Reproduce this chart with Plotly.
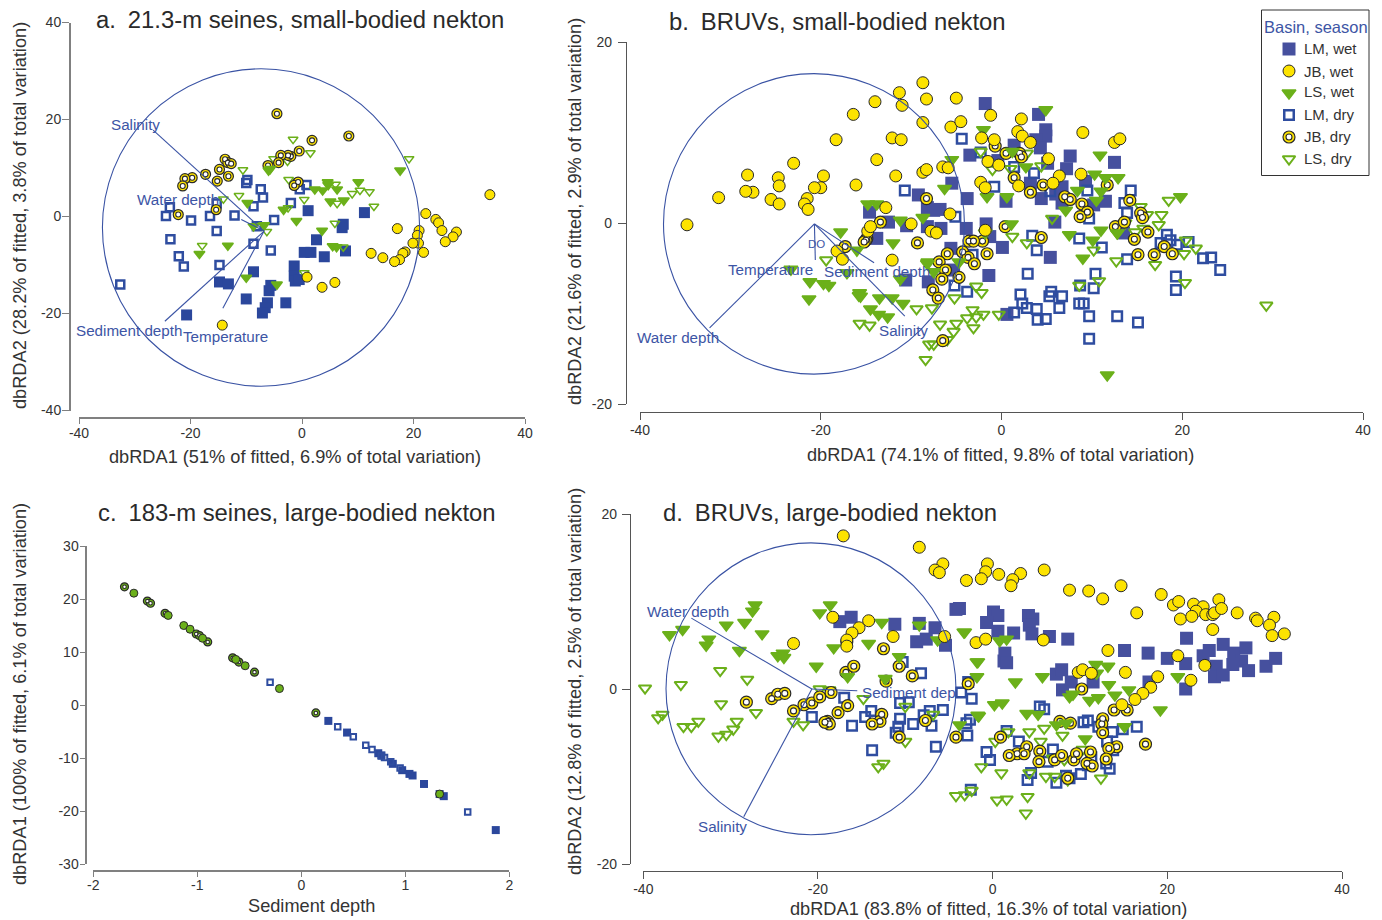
import plotly.graph_objects as go

# ---------- panel a ----------
a_lm_wet_x = [1.1,11.2,7.4,7.2,2.6,0.4,1.6,4.0,7.8,-1.4,-1.4,-1.2,-0.5,-8.7,-14.8,-13.2,-5.6,-5.9,-10.0,-6.2,-6.6,-7.1,-2.9,-20.7]
a_lm_wet_y = [1.2,0.8,-1.6,-2.3,-4.8,-7.4,-7.4,-8.3,-7.1,-10.2,-12.3,-13.3,-13.0,-11.4,-13.5,-13.9,-14.2,-15.3,-17.0,-17.8,-18.8,-19.9,-17.8,-20.3]
a_jb_wet_x = [33.7,22.2,24.0,24.5,25.1,27.7,27.1,25.7,17.1,21.0,20.7,20.9,19.9,21.8,18.5,18.1,17.5,16.6,12.4,14.5,0.9,3.6,5.9,-14.3]
a_jb_wet_y = [4.5,0.6,-0.6,-1.3,-2.9,-3.2,-4.2,-5.2,-2.5,-2.9,-3.9,-5.5,-5.5,-7.4,-7.3,-7.6,-8.9,-9.3,-7.6,-8.5,-12.5,-14.6,-13.6,-22.4]
a_ls_wet_x = [17.6,4.6,4.7,10.1,2.3,3.7,6.3,5.1,7.5,-9.8,-3.3,-1.0,3.6,5.5,6.2,-6.8,-8.7,-13.3,-18.4,-10.0,-4.5,-6.0,-5.7]
a_ls_wet_y = [9.5,7.1,6.5,7.1,5.6,5.4,5.6,3.1,3.3,2.8,1.4,-0.9,-2.9,-6.1,-6.3,-1.8,-2.0,-6.0,-7.7,-12.6,-14.0,9.5,9.8]
a_lm_dry_x = [-9.8,-10.0,-7.4,-7.0,-8.7,-2.0,0.8,-0.4,-5.0,-12.1,-8.1,-15.3,-16.5,-19.9,-24.4,-23.7,-15.3,-23.6,-22.1,-21.2,-14.8,-8.7,-5.6,-32.6]
a_lm_dry_y = [7.5,6.9,5.6,3.9,2.1,2.8,6.5,5.6,-0.7,0.2,-2.0,2.7,0.1,-0.8,0.1,1.9,-3.0,-4.7,-8.2,-10.3,-10.0,-5.6,-7.0,-14.0]
a_jb_dry_x = [-4.5,1.8,8.4,-0.5,-2.0,-2.5,-3.8,-4.2,-6.1,-13.8,-13.3,-12.7,-17.3,-14.8,-13.2,-15.2,-19.7,-21.0,-21.4,-0.7,-1.4,-22.2,-15.4]
a_jb_dry_y = [21.2,15.7,16.6,13.5,12.4,12.6,12.6,11.1,10.5,11.8,11.1,10.9,8.7,9.7,8.3,7.3,8.0,7.8,6.3,7.1,6.4,0.4,1.4]
a_ls_dry_x = [-1.6,1.5,-5.1,-2.6,-10.6,-2.4,6.0,9.0,10.4,12.1,0.4,12.9,6.3,-11.3,-14.1,-2.5,5.9,-6.3,-17.9,0.4,19.2,7.4]
a_ls_dry_y = [15.9,13.1,11.9,11.4,9.6,7.6,6.6,4.7,5.4,5.1,3.5,2.1,2.7,4.3,3.6,1.8,-1.4,-3.1,-6.0,-11.6,11.9,-6.3]

# ---------- panel b ----------
b_lm_wet_x = [-3.5,-5.5,-9.2,-8.2,-6.8,-7.5,-14.6,-10.5,-8.2,-6.7,-3.8,-3.9,-13.8,-5.6,-10.6,-8.1,-5.3,-12.5,-1.8,4.1,4.9,4.9,3.8,1.4,-0.4,4.3,7.6,7.2,12.5,9.3,0.5,4.4,3.2,6.7,6.0,6.7,11.5,10.2,5.9,-1.7,-1.3,0.1,5.4,-1.4,13.5,5.1,0.6]
b_lm_wet_y = [7.5,4.4,3.1,1.7,1.5,1.4,1.2,-0.3,-0.4,-0.6,2.7,-0.6,-1.7,-2.8,-6.3,-6.5,-5.2,0.1,13.2,12.0,10.3,9.6,9.2,8.6,6.9,8.3,7.4,6.0,6.7,4.6,2.4,2.7,4.4,4.0,3.2,2.2,2.4,2.0,0.1,-0.1,-1.5,-2.7,-3.8,-5.8,-1.1,6.6,-10.1]
b_jb_wet_x = [-8.7,-11.3,-14.0,-8.3,-5.0,-11.0,-16.4,-8.7,-5.6,-4.5,-18.3,-12.1,-11.1,-23.0,-28.1,-13.8,-24.7,-24.6,-19.7,-20.0,-20.7,-27.5,-28.3,-31.3,-25.5,-24.6,-21.5,-21.8,-21.4,-16.1,-11.7,-8.7,-8.3,-6.5,-5.9,-12.8,-5.7,-10.0,-7.8,-7.2,-14.8,-34.8,-18.2,-17.6,-12.1,-14.5,-1.2,2.2,-2.2,-0.8,1.8,2.3,3.2,9.0,12.5,13.1,-1.5,5.2,8.8,6.4,-2.3,-1.8,1.9,-0.3,-1.8,5.7]
b_jb_wet_y = [15.5,14.4,13.4,13.7,13.8,13.0,12.0,11.1,10.6,11.2,9.2,9.4,9.2,6.6,5.3,7.0,5.0,4.1,5.2,3.9,3.9,3.4,3.5,2.8,2.6,2.1,2.7,2.1,1.5,4.2,5.2,5.6,5.9,6.2,6.1,1.7,1.0,-0.1,-0.9,-1.1,-0.9,-0.2,-3.1,-4.0,-4.1,-0.4,11.9,11.5,9.4,9.2,10.1,9.6,8.9,10.0,8.9,9.3,6.8,7.1,5.4,5.2,4.5,3.9,4.1,6.4,-0.8,4.4]
b_ls_wet_x = [-5.5,-6.3,-14.8,-13.8,-11.2,-8.7,-17.8,-12.0,-16.0,-23.3,-21.2,-19.7,-19.1,-21.3,-15.7,-15.6,-13.5,-12.1,-10.9,-14.5,-13.6,-12.6,-11.2,-17.1,-7.5,-4.7,-8.2,4.9,-2.0,10.9,10.3,12.9,11.5,8.4,11.0,10.5,7.1,2.7,-1.6,0.6,1.2,19.8,1.1,-1.8,11.0,7.5,10.1,9.0,11.7,12.8]
b_ls_wet_y = [7.0,3.8,2.1,2.1,0.3,0.6,-1.0,-2.2,-3.0,-5.1,-6.5,-6.7,-6.9,-8.4,-7.7,-8.1,-8.3,-8.3,-8.9,-9.5,-10.1,-10.4,-6.2,-5.5,-5.4,-4.3,-4.5,12.5,10.3,7.5,5.4,5.0,5.0,3.6,3.5,2.5,1.4,6.2,2.9,2.9,7.9,2.9,-0.1,-1.1,-0.8,-1.3,-1.9,-3.9,-16.8,-1.1]
b_lm_dry_x = [-4.4,-10.7,-5.1,-5.2,-3.8,-2.3,-0.8,1.4,3.6,9.5,14.3,13.6,13.9,5.4,3.4,3.9,8.6,11.1,9.7,13.9,2.9,10.4,8.7,10.2,2.1,5.5,5.3,6.7,2.3,2.8,3.9,6.4,8.6,9.1,1.4,4.9,4.0,9.7,12.8,15.1,9.7,17.6,18.3,18.7,19.4,20.7,22.3,23.2,24.2,19.3,19.3,-3.2]
b_lm_dry_y = [9.3,3.6,0.7,-6.9,-7.6,7.8,4.0,6.2,5.5,3.6,3.6,2.2,1.1,3.5,-1.4,-3.0,-1.7,-2.7,0.5,-4.0,-5.6,-5.6,-6.9,-7.2,-7.9,-7.6,-8.1,-8.1,-8.9,-9.4,-9.5,-9.4,-8.9,-8.9,-9.9,-10.6,-10.7,-10.3,-10.3,-11.0,-12.8,-2.2,-1.3,-1.9,-2.4,-2.1,-3.9,-3.8,-5.2,-5.9,-7.4,-3.5]
b_jb_dry_x = [-8.3,-13.4,-9.3,-14.9,-15.0,-15.2,-17.3,-6.0,-4.3,-6.9,-6.2,-6.6,-4.7,-7.6,-7.0,-6.5,-3.6,-0.7,0.5,2.0,2.2,1.4,4.6,3.2,7.0,7.6,11.7,8.9,9.5,8.7,14.2,15.4,15.6,12.6,13.6,16.2,14.7,0.4,4.4,-2.1,-3.1,-3.7,-3.0,-1.6,15.1,16.9,18.0,18.9]
b_jb_dry_y = [2.7,0.1,-2.2,-1.7,-1.9,-2.1,-2.6,-3.4,-3.2,-4.3,-5.2,-6.2,-6.0,-7.4,-8.3,-13.0,-2.0,8.5,7.7,7.7,7.3,5.0,4.2,3.4,2.9,2.6,4.2,2.1,1.2,0.7,2.5,1.1,0.6,-0.4,0.1,-1.0,-1.8,-0.4,-1.6,-2.0,-2.0,-3.8,-4.5,-3.4,-3.5,-3.5,-2.6,-3.4]
b_ls_dry_x = [-19.4,-9.4,-15.7,-14.6,-7.7,-5.2,-6.8,-5.0,-3.8,-5.3,-8.0,-7.5,-6.0,-8.4,-8.2,-15.8,-1.0,1.0,4.4,2.8,-2.3,18.5,15.4,16.1,17.7,17.4,13.7,12.8,14.8,15.7,1.2,2.8,10.2,12.7,17.0,20.4,21.5,20.2,10.8,8.6,20.3,29.3,-2.8,-2.2,-3.2,-2.0,-0.3,-2.8,-3.1,5.6]
b_ls_dry_y = [-4.1,-9.5,-11.1,-11.3,-9.4,-8.3,-11.2,-11.1,-10.5,-12.0,-13.4,-13.4,-12.9,-15.1,-4.3,-8.0,5.9,6.0,6.3,7.7,7.9,2.5,1.8,0.9,0.9,-0.2,0.0,-1.1,-1.0,-0.6,-1.5,-2.2,-3.0,-4.2,-4.6,-1.9,-2.8,-3.4,-6.4,-6.9,-6.6,-9.1,-7.0,-7.7,-9.6,-10.1,-10.1,-10.4,-11.6,0.5]

# ---------- panel c ----------
c_green_wet_x = [-1.61,-1.28,-1.13,-1.07,-0.95,-0.54,-0.21,1.33,-0.63]
c_green_wet_y = [21.1,16.9,15.0,14.3,12.6,7.4,3.1,-16.8,8.6]
c_green_dry_x = [-1.70,-1.48,-1.45,-1.31,-1.01,-0.98,-0.90,-0.66,-0.60,-0.45,0.14]
c_green_dry_y = [22.3,19.6,19.2,17.3,13.4,13.1,11.9,8.9,8.1,6.2,-1.5]
c_lm_wet_x = [0.26,0.44,0.74,0.77,0.88,0.97,1.04,1.07,1.18,1.33,1.37,1.87]
c_lm_wet_y = [-3.0,-5.2,-9.1,-9.5,-11.1,-12.3,-13.0,-13.3,-14.9,-16.8,-17.2,-23.6]
c_lm_dry_x = [-0.30,0.35,0.50,0.62,0.68,0.77,0.80,0.86,0.95,1.60]
c_lm_dry_y = [4.3,-4.1,-6.0,-7.6,-8.4,-9.6,-9.9,-10.7,-11.9,-20.2]

# ---------- panel d ----------
d_lm_wet_x = [-17.5,-16.2,-11.2,-8.4,-6.6,-7.6,-8.7,-5.4,-4.2,-3.8,0.1,0.6,-0.7,0.6,2.4,4.1,4.6,4.2,4.5,6.5,8.6,1.4,1.3,1.6,15.1,17.8,20.0,22.2,22.1,24.1,24.8,26.4,27.6,29.0,28.5,27.5,25.6,25.4,26.4,29.3,31.3,32.4,7.3,7.9,8.0,9.0,11.5,17.9,22.1]
d_lm_wet_y = [7.7,8.2,7.4,7.5,7.0,5.7,5.4,5.0,9.1,9.2,8.8,8.4,7.6,6.6,6.4,8.4,8.0,7.3,6.3,6.0,5.7,4.1,3.2,3.0,4.4,4.1,3.5,5.8,2.9,3.8,4.4,5.1,4.1,4.7,3.2,2.8,2.6,1.4,1.6,2.1,2.6,3.5,1.7,2.2,-0.1,0.8,0.8,0.8,0.0]
d_jb_wet_x = [-17.1,-8.4,-5.7,-6.6,-6.1,-3.0,-18.3,-14.2,-15.3,-16.1,-16.7,-16.7,-11.4,-5.5,-22.8,-1.9,-0.6,-0.8,0.7,-1.3,3.2,2.3,2.1,5.9,8.8,11.0,12.6,14.7,19.3,20.7,21.3,23.0,24.1,23.3,24.4,25.2,25.4,25.9,26.2,21.5,22.8,28.0,30.1,30.3,32.2,31.7,32.0,33.4,25.2,16.5,-0.8,5.8,13.2,21.2,24.3,15.2,9.8,10.3,11.3,22.7,18.9,18.1,17.2,16.3,14.8]
d_jb_wet_y = [17.5,16.2,14.3,13.6,13.3,12.4,8.2,7.8,7.0,6.4,5.6,4.9,6.0,6.0,5.2,5.3,14.3,13.4,13.1,12.6,13.2,12.5,11.8,13.6,11.3,11.2,10.3,11.8,10.8,9.6,10.0,9.7,9.4,8.9,8.5,8.5,8.7,10.2,9.2,8.0,8.3,8.7,8.1,7.8,8.2,7.3,6.1,6.3,6.8,8.7,5.7,5.6,4.4,3.8,2.7,1.9,1.9,2.2,1.8,1.0,1.4,0.2,-0.5,-1.2,-1.8]
d_ls_wet_x = [-27.2,-27.5,-30.5,-28.4,-26.4,-37.0,-35.5,-32.5,-32.8,-29.0,-24.6,-24.0,-23.9,-18.6,-19.8,-18.2,-14.2,-12.7,-20.2,-16.6,-10.7,-12.3,-3.3,-8.4,-6.3,-3.8,-1.8,-1.8,-1.7,-3.2,-1.7,0.8,1.6,2.6,5.7,0.2,1.1,-1.6,3.9,5.2,7.3,8.4,8.8,11.1,12.1,11.8,13.2,11.9,13.3,14.0,15.6,15.1,19.2,21.2,10.6,9.2]
d_ls_wet_y = [9.6,8.9,7.3,7.6,6.3,6.2,6.8,5.7,5.0,4.4,3.8,4.1,3.6,9.6,8.7,4.7,5.2,7.6,2.6,1.4,3.7,1.2,6.5,7.3,5.6,-4.1,3.1,1.4,-3.0,6.5,3.1,5.5,5.7,0.8,1.4,-1.8,-1.6,-3.1,-2.8,-2.9,-4.1,-3.9,-0.9,-1.3,-1.0,2.8,2.6,1.8,0.5,-0.7,-0.1,-4.3,-2.4,1.4,-5.7,-0.6]
d_lm_dry_x = [-10.3,-8.2,-17.0,-20.7,-16.1,-14.6,-13.9,-10.6,-9.6,-10.6,-9.1,-10.8,-11.1,-7.2,-5.7,-7.9,-7.0,-3.6,-2.8,-2.4,-2.6,-3.0,-2.9,-13.8,-6.5,-2.5,-0.7,-0.3,1.6,3.0,5.4,5.9,6.9,10.4,10.9,12.1,13.7,14.9,16.5,13.1,13.0,13.4,4.4,4.0,7.3,8.4,10.1,8.8,11.3,10.9,6.3,13.8]
d_lm_dry_y = [3.1,1.8,-1.0,-3.2,-4.2,-3.2,-2.5,-1.6,-1.5,-3.4,-4.0,-4.3,-5.0,-2.5,-2.4,-3.0,-4.2,-0.4,0.8,-1.1,-3.5,-3.9,-5.3,-7.0,-6.6,-11.5,-7.2,-8.1,-4.8,-6.0,-2.0,-2.3,-6.9,-3.8,-3.6,-4.3,-4.9,-4.6,-4.3,-6.0,-8.5,-9.1,-9.6,-10.4,-10.7,-9.9,-9.7,-10.2,-7.8,-8.7,-8.3,-7.0]
d_jb_dry_x = [-28.2,-25.3,-24.6,-23.8,-22.8,-21.6,-20.7,-19.8,-18.5,-18.9,-18.7,-19.2,-17.7,-16.6,-16.8,-15.9,-16.7,-12.5,-10.7,-9.2,-12.2,-12.7,-12.9,-13.8,-7.7,-4.2,-2.8,-10.7,0.9,10.2,13.9,15.4,7.7,8.9,12.6,12.5,12.6,17.5,14.2,13.3,3.9,2.8,3.6,1.9,5.4,5.3,7.1,7.9,9.3,9.6,11.2,10.8,11.4,13.0,8.6]
d_jb_dry_y = [-1.5,-1.1,-0.6,-0.5,-2.5,-1.8,-1.6,-0.9,-0.4,-3.7,-4.0,-3.8,-2.7,-1.9,1.9,2.6,5.4,4.6,2.6,1.5,0.9,-2.9,-3.7,-4.0,-3.6,-5.5,0.6,-5.5,-5.5,0.0,-2.4,-2.4,-3.7,-3.9,-3.4,-4.0,-5.0,-6.3,-6.6,-6.8,-6.6,-7.4,-7.4,-7.6,-7.1,-8.3,-8.1,-7.6,-8.1,-7.4,-7.2,-8.5,-8.8,-8.0,-10.2]
d_ls_dry_x = [-39.8,-35.7,-31.2,-28.1,-37.8,-38.3,-31.1,-27.1,-35.4,-34.5,-33.7,-31.4,-30.5,-29.7,-29.3,-22.8,-21.7,-19.8,-18.7,-14.8,-10.0,-6.8,-10.0,-13.1,-12.5,-4.2,-3.2,-2.4,1.8,4.2,5.9,8.0,0.3,5.5,-1.3,1.0,4.2,6.1,7.1,8.6,12.4,10.3,0.5,1.6,4.0,3.8,6.9,8.2]
d_ls_dry_y = [0.1,0.5,2.1,1.1,-2.9,-3.3,-1.7,-2.7,-4.3,-4.3,-3.7,-5.4,-5.2,-4.6,-3.7,-3.7,-4.1,0.0,-0.1,-1.1,-2.0,-2.9,-6.0,-8.9,-8.5,-12.2,-12.1,-11.6,-4.9,-4.9,-4.5,-5.3,-6.0,-6.0,-8.9,-9.6,-9.6,-10.0,-10.0,-10.4,-10.2,-6.9,-12.7,-12.6,-12.3,-14.2,-7.9,-8.1]

# ---------- biplot vectors and correlation circles ----------
a_vector_names = ["Salinity","Water depth","Sediment depth","Temperature"]
a_vector_x = [-26.7,-10.9,-24.6,-14.2]
a_vector_y = [17.8,-0.6,-21.6,-18.9]
a_origin = (-6.8,-3.0)
a_circle = (-35.8,21.1,-35.0,30.45)
b_vector_names = ["Water depth","DO","Sediment depth","Salinity"]
b_vector_x = [-32.3,-20.6,-14.1,-10.7]
b_vector_y = [-11.6,-4.1,-4.4,-10.3]
b_origin = (-20.7,-0.1)
b_circle = (-37.4,-4.1,-16.7,16.5)
d_vector_names = ["Water depth","Sediment depth","Salinity"]
d_vector_x = [-34.5,-15.5,-28.5]
d_vector_y = [8.1,-0.2,-14.6]
d_origin = (-20.7,0.0)
d_circle = (-37.4,-4.2,-16.65,16.7)

legend_labels = ["LM, wet","JB, wet","LS, wet","LM, dry","JB, dry","LS, dry"]
legend_title = "Basin, season"

panel_titles = ["a.\u200221.3-m seines, small-bodied nekton","b.\u2002BRUVs, small-bodied nekton",
                "c.\u2002183-m seines, large-bodied nekton","d.\u2002BRUVs, large-bodied nekton"]
x_titles = ["dbRDA1 (51% of fitted, 6.9% of total variation)","dbRDA1 (74.1% of fitted, 9.8% of total variation)",
            "Sediment depth","dbRDA1 (83.8% of fitted, 16.3% of total variation)"]
y_titles = ["dbRDA2 (28.2% of fitted, 3.8% of total variation)","dbRDA2 (21.6% of fitted, 2.9% of total variation)",
            "dbRDA1 (100% of fitted, 6.1% of total variation)","dbRDA2 (12.8% of fitted, 2.5% of total variation)"]

a_x_ticks=[-40,-20,0,20,40]; a_y_ticks=[-40,-20,0,20,40]
b_x_ticks=[-40,-20,0,20,40]; b_y_ticks=[-20,0,20]
c_x_ticks=[-2,-1,0,1,2];     c_y_ticks=[-30,-20,-10,0,10,20,30]
d_x_ticks=[-40,-20,0,20,40]; d_y_ticks=[-20,0,20]

W, H = 1382, 920
px = lambda v: v / W
py = lambda v: 1 - v / H

BLUE_A, BLUE_B = "#2b479c", "#46509e"
OPEN_BLUE = "#2f4da0"
YEL, GRN, INK, TXT = "#fde300", "#6bb01a", "#2a2a2a", "#3d55a5"
DARK = "#333333"

fig = go.Figure()

def style(kind, s, blue):
    if kind == "sq":
        return dict(symbol="square", size=s["sq"], color=blue, line=dict(width=0))
    if kind == "ci":
        return dict(symbol="circle", size=s["ci"], color=YEL, line=dict(width=1, color=INK))
    if kind == "tr":
        return dict(symbol="triangle-down", size=s["tr"], color=GRN, line=dict(width=1.5, color=GRN))
    if kind == "sqo":
        return dict(symbol="square-open", size=s["sqo"], color=OPEN_BLUE, line=dict(width=s["sqw"], color=OPEN_BLUE))
    if kind == "tro":
        return dict(symbol="triangle-down-open", size=s["tro"], color=GRN, line=dict(width=s["trw"], color=GRN))

def add(kind, x, y, ax, s, name, blue=BLUE_B, ring=YEL):
    xa, ya = "x"+ax, "y"+ax
    if kind == "ri":
        fig.add_trace(go.Scatter(x=x, y=y, mode="markers", name=name, xaxis=xa, yaxis=ya, cliponaxis=False, showlegend=False,
                                 marker=dict(symbol="circle", size=s["ri"], color=ring, line=dict(width=1.2, color=INK))))
        fig.add_trace(go.Scatter(x=x, y=y, mode="markers", name=name+" centre", xaxis=xa, yaxis=ya, cliponaxis=False, showlegend=False,
                                 marker=dict(symbol="circle", size=s["rc"], color="white", line=dict(width=1.1, color=INK))))
    else:
        fig.add_trace(go.Scatter(x=x, y=y, mode="markers", name=name, xaxis=xa, yaxis=ya, cliponaxis=False, showlegend=False,
                                 marker=style(kind, s, blue)))

S_A = dict(sq=11, ci=10, tr=9.5, sqo=8, sqw=2.5, tro=8.5, trw=1.5, ri=10, rc=5)
S_B = dict(sq=13, ci=12, tr=12, sqo=9.5, sqw=2.5, tro=11, trw=2, ri=12, rc=6)
S_C = dict(sq=8, ci=8, sqo=5.5, sqw=2, ri=8, rc=3.5)
S_L = S_B

def panel(ax, lw, ls, ld, jd, sd, jw, s, blue):
    add("sq", *lw, ax, s, "LM, wet", blue)
    add("sqo", *ld, ax, s, "LM, dry")
    add("tro", *sd, ax, s, "LS, dry")
    add("ri", *jd, ax, s, "JB, dry")
    add("tr", *ls, ax, s, "LS, wet")
    add("ci", *jw, ax, s, "JB, wet")

panel("", (a_lm_wet_x,a_lm_wet_y), (a_ls_wet_x,a_ls_wet_y), (a_lm_dry_x,a_lm_dry_y), (a_jb_dry_x,a_jb_dry_y), (a_ls_dry_x,a_ls_dry_y), (a_jb_wet_x,a_jb_wet_y), S_A, BLUE_A)
panel("2", (b_lm_wet_x,b_lm_wet_y), (b_ls_wet_x,b_ls_wet_y), (b_lm_dry_x,b_lm_dry_y), (b_jb_dry_x,b_jb_dry_y), (b_ls_dry_x,b_ls_dry_y), (b_jb_wet_x,b_jb_wet_y), S_B, BLUE_B)
panel("4", (d_lm_wet_x,d_lm_wet_y), (d_ls_wet_x,d_ls_wet_y), (d_lm_dry_x,d_lm_dry_y), (d_jb_dry_x,d_jb_dry_y), (d_ls_dry_x,d_ls_dry_y), (d_jb_wet_x,d_jb_wet_y), S_B, BLUE_B)

# panel c
add("sq", c_lm_wet_x, c_lm_wet_y, "3", S_C, "LM, wet", BLUE_A)
add("sqo", c_lm_dry_x, c_lm_dry_y, "3", S_C, "LM, dry")
add("ri", c_green_dry_x, c_green_dry_y, "3", S_C, "green, dry", ring=GRN)
fig.add_trace(go.Scatter(x=c_green_wet_x, y=c_green_wet_y, mode="markers", name="green, wet", xaxis="x3", yaxis="y3", cliponaxis=False, showlegend=False,
                         marker=dict(symbol="circle", size=S_C["ci"], color=GRN, line=dict(width=1, color=INK))))

# vectors
def vectors(ax, origin, vx, vy, names):
    for n, x, y in zip(names, vx, vy):
        fig.add_trace(go.Scatter(x=[origin[0], x], y=[origin[1], y], mode="lines", name=n, showlegend=False,
                                 xaxis="x"+ax, yaxis="y"+ax, line=dict(color="#3a53a4", width=1.1)))
vectors("", a_origin, a_vector_x, a_vector_y, a_vector_names)
vectors("2", b_origin, b_vector_x, b_vector_y, b_vector_names)
vectors("4", d_origin, d_vector_x, d_vector_y, d_vector_names)

shapes = []
for ax, c in (("", a_circle), ("2", b_circle), ("4", d_circle)):
    shapes.append(dict(type="circle", xref="x"+ax, yref="y"+ax, x0=c[0], x1=c[1], y0=c[2], y1=c[3],
                       line=dict(color="#3a53a4", width=1.1), layer="above"))

# legend as its own small hidden axes
add("sq", [28], [legend_labels[0]], "5", S_L, legend_labels[0])
add("ci", [28], [legend_labels[1]], "5", S_L, legend_labels[1])
add("tr", [28], [legend_labels[2]], "5", S_L, legend_labels[2])
add("sqo", [28], [legend_labels[3]], "5", S_L, legend_labels[3])
add("ri", [28], [legend_labels[4]], "5", S_L, legend_labels[4])
add("tro", [28], [legend_labels[5]], "5", S_L, legend_labels[5])
shapes.append(dict(type="rect", xref="paper", yref="paper", x0=px(1261.5), x1=px(1369), y0=py(10), y1=py(175.5),
                   line=dict(color="#333333", width=1)))

ann = []
def T(text, x, y, size, color=DARK, anchor="center", angle=0):
    ann.append(dict(text=text, x=px(x), y=py(y), xref="paper", yref="paper", showarrow=False, xanchor=anchor, yanchor="middle",
                    font=dict(size=size, color=color), textangle=angle, borderpad=0))

for t, x, y in zip(panel_titles, (95,668,97,662), (19,22,512,512)):
    T(t, x, y, 23.85, "#2a2a2a", "left")
for t, x, y in zip(x_titles, (295,1000,311,989), (457,455,906,909)):
    T(t, x, y, 18.2, DARK)
for t, x, y in zip(y_titles, (20,575,20,575), (216,212,694,682)):
    T(t, x, y, 18.2, DARK, angle=-90)

def L(text, x, y):
    T(text, x, y, 15.2, TXT)
L("Salinity",135,124); L("Water depth",178,199); L("Sediment depth",129,330); L("Temperature",225,336)
L("Water depth",678,337); T("DO",816,244,11.5,TXT); L("Temperature",770,269); L("Sediment depth",877,271); L("Salinity",903,330)
L("Water depth",688,611); L("Salinity",722,826); T("Sediment dep",860.5,692,15.2,TXT,"left")

T(legend_title,1315.5,27,16.5,TXT)
for lab, y in zip(legend_labels,(49,71,92,114,136,159)):
    T(lab,1303,y,15,DARK,"left")

def axis_x(dom, rng, ticks, ypos, color, width, tl, st):
    return dict(domain=[px(dom[0]), px(dom[1])], range=rng, anchor="free", position=py(ypos), showgrid=False, zeroline=False,
                showline=True, linecolor=color, linewidth=width, ticks="outside", ticklen=tl, tickwidth=1, tickcolor=color,
                ticklabelstandoff=st, tickvals=ticks, ticktext=[str(t) for t in ticks], tickfont=dict(size=14, color=DARK))
def axis_y(dom, rng, ticks, xpos, color, width, tl, st):
    return dict(domain=[py(dom[1]), py(dom[0])], range=rng, anchor="free", position=px(xpos), showgrid=False, zeroline=False,
                showline=True, linecolor=color, linewidth=width, ticks="outside", ticklen=tl, tickwidth=1, tickcolor=color,
                ticklabelstandoff=st, tickvals=ticks, ticktext=[str(t) for t in ticks], tickfont=dict(size=14, color=DARK))

GRAY, DK = "#808080", "#555555"
fig.update_layout(
    width=W, height=H, margin=dict(l=0,r=0,t=0,b=0,autoexpand=False), autosize=False, showlegend=False,
    paper_bgcolor="white", plot_bgcolor="rgba(0,0,0,0)",
    font=dict(family="Liberation Sans, Arial, sans-serif", color=DARK),
    shapes=shapes, annotations=ann,
    xaxis =axis_x((79,525),[-40,40],a_x_ticks,418,GRAY,2,5,-3),   yaxis =axis_y((22.5,410.5),[-40,40],a_y_ticks,70,GRAY,2,7,-2),
    xaxis2=axis_x((640,1363),[-40,40],b_x_ticks,412,DK,1.2,7,-2), yaxis2=axis_y((42,404),[-20,20],b_y_ticks,626,DK,1.2,8,3),
    xaxis3=axis_x((93.3,509.3),[-2,2],c_x_ticks,871,GRAY,2,5,-4), yaxis3=axis_y((546,864),[-30,30],c_y_ticks,85.5,GRAY,2,5,-2),
    xaxis4=axis_x((643.3,1342),[-40,40],d_x_ticks,871,DK,1.2,7,-2), yaxis4=axis_y((514,864),[-20,20],d_y_ticks,630,DK,1.2,8,2),
    xaxis5=dict(domain=[px(1261),px(1369)], range=[0,108], visible=False, anchor="y5"),
    yaxis5=dict(domain=[py(170),py(38)], range=[5.5,-0.5], visible=False, anchor="x5", type="category", categoryorder="array", categoryarray=legend_labels),
)

fig.write_html("out.html", config={"displayModeBar": False}, post_script="document.body.style.margin='0';document.body.style.overflow='hidden';")
